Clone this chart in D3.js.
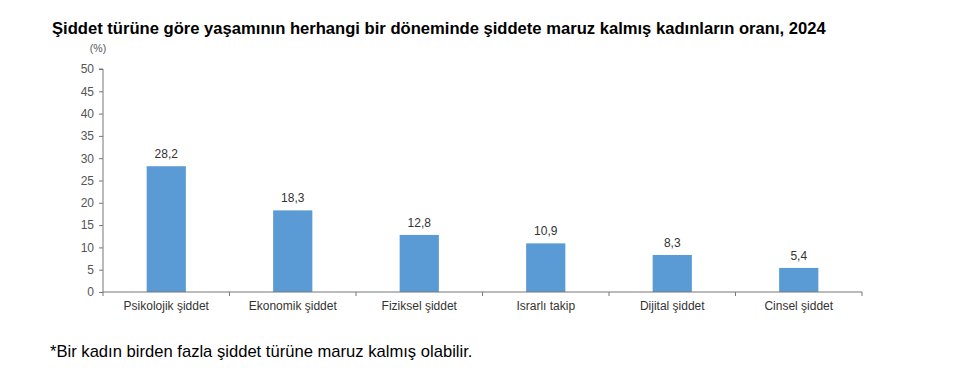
<!DOCTYPE html>
<html><head><meta charset="utf-8">
<script src="https://cdn.jsdelivr.net/npm/d3@7"></script>
<style>body{margin:0;background:#fff;font-family:"Liberation Sans",Arial,sans-serif;}</style>
</head><body>
<svg id="c" width="969" height="384"></svg>
<script>
const categories = ["Psikolojik şiddet","Ekonomik şiddet","Fiziksel şiddet","Israrlı takip","Dijital şiddet","Cinsel şiddet"];
const values = [28.2,18.3,12.8,10.9,8.3,5.4];
const yTicks = [0,5,10,15,20,25,30,35,40,45,50];

const svg = d3.select("#c");
const m = {left:103, right:862, top:69, bottom:292};
const x = d3.scaleBand().domain(categories).range([m.left, m.right]).paddingInner(0.69).paddingOuter(0.345);
const xb = d3.scaleBand().domain(categories).range([m.left, m.right]);
const y = d3.scaleLinear().domain([0,50]).range([m.bottom, m.top]);
const fmt = v => String(v).replace(".", ",");

svg.append("text").attr("x",52).attr("y",34).attr("font-size",16.6).attr("font-weight","bold").attr("fill","#000")
  .text("Şiddet türüne göre yaşamının herhangi bir döneminde şiddete maruz kalmış kadınların oranı, 2024");
svg.append("text").attr("x",98).attr("y",52).attr("text-anchor","middle").attr("font-size",10.5).attr("fill","#555").text("(%)");

svg.selectAll("rect.bar").data(values).join("rect").attr("class","bar")
  .attr("x",(d,i)=>x(categories[i])).attr("width",x.bandwidth())
  .attr("y",d=>y(d)).attr("height",d=>y(0)-y(d)).attr("fill","#5b9bd5");

svg.selectAll("text.val").data(values).join("text").attr("class","val")
  .attr("x",(d,i)=>x(categories[i])+x.bandwidth()/2).attr("y",d=>y(d)-8)
  .attr("text-anchor","middle").attr("font-size",12).attr("fill","#333").text(fmt);

const ya = svg.append("g").attr("transform",`translate(${m.left},0)`)
  .call(d3.axisLeft(y).tickValues(yTicks).tickSize(4).tickPadding(5));
ya.selectAll("text").attr("font-size",12).attr("fill","#555").attr("font-family","Liberation Sans, Arial, sans-serif");
ya.selectAll("line,path").attr("stroke","#777");
ya.select("path").attr("d",`M-4,${m.top}H0V${m.bottom}`);

const xa = svg.append("g").attr("transform",`translate(0,${m.bottom})`);
xa.append("line").attr("x1",m.left).attr("x2",m.right).attr("stroke","#777");
const bounds = categories.map(c=>xb(c)).concat([m.right]);
xa.selectAll("line.t").data(bounds).join("line").attr("class","t")
  .attr("x1",d=>d).attr("x2",d=>d).attr("y1",0).attr("y2",4).attr("stroke","#777");
xa.selectAll("text").data(categories).join("text")
  .attr("x",c=>xb(c)+xb.bandwidth()/2).attr("y",18).attr("text-anchor","middle")
  .attr("font-size",12).attr("fill","#333").text(c=>c);

svg.append("text").attr("x",50).attr("y",357).attr("font-size",16.6).attr("fill","#000")
  .text("*Bir kadın birden fazla şiddet türüne maruz kalmış olabilir.");
</script>
</body></html>
